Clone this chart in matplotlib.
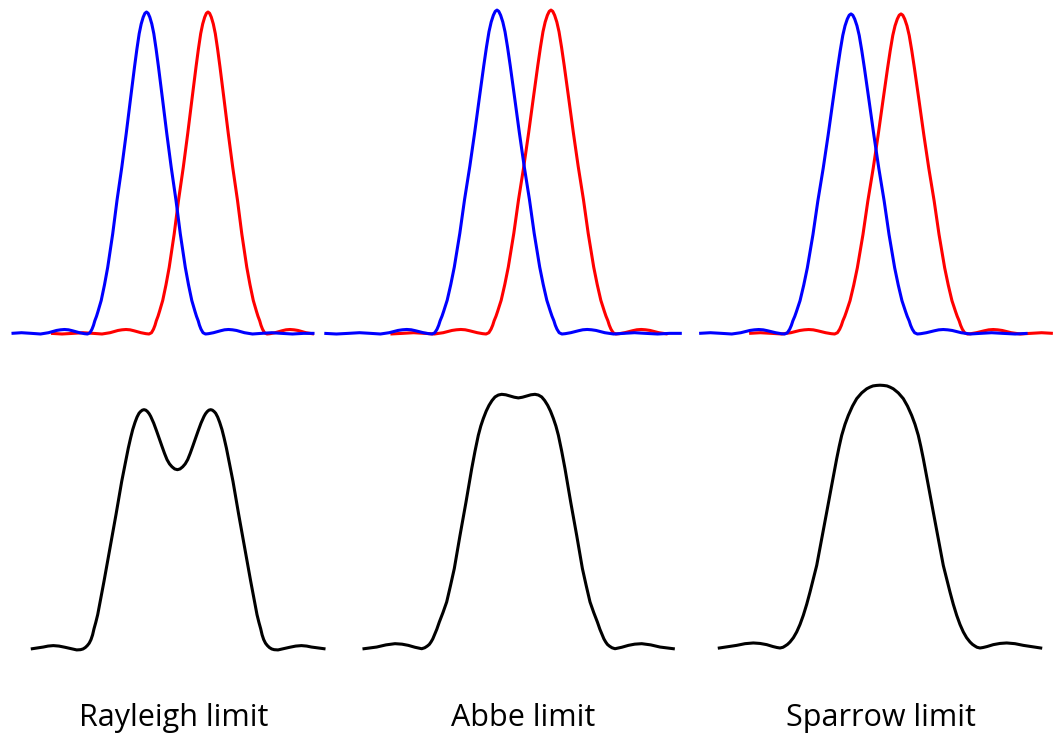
import numpy as np
import matplotlib
matplotlib.use("Agg")
import matplotlib.pyplot as plt

# one spot (Airy-like profile) read off the blue peak of the first panel
# offset from the peak centre, relative intensity
spot_offset = [-180, -168, -157, -146, -135, -125, -115, -106, -98, -90, -86, -82, -78, -74, -67,
               -62, -59, -56.5, -54.5, -53, -51.7, -50, -48.5, -47, -45.3, -42, -38.8, -33.8,
               -29.5, -24.7, -20.3, -16.2, -12, -9.6, -7.3, -5.3, -3.3, -1.6, 0,
               1.6, 3.3, 5.3, 7.3, 9.6, 12, 16.2, 20.3, 24.7, 29.5,
               33.8, 38.8, 42, 45.3, 47, 48.5, 50, 51.7, 53, 54.5, 56.5, 59, 62,
               67, 74, 78, 82, 86, 90, 98, 106, 115, 125, 135, 146, 157, 168, 180]
spot_height = [0.001, 0.002, 0.002, 0.0, 0.002, 0.004, 0.002, 0.0, 0.004, 0.011, 0.013, 0.014, 0.013, 0.010, 0.004,
               0.001, 0.0, 0.004, 0.015, 0.027, 0.041, 0.055, 0.070, 0.086, 0.104, 0.153, 0.207, 0.311,
               0.415, 0.518, 0.622, 0.725, 0.829, 0.885, 0.933, 0.963, 0.984, 0.996, 1.0,
               0.996, 0.984, 0.963, 0.933, 0.885, 0.829, 0.725, 0.622, 0.518, 0.415,
               0.311, 0.207, 0.153, 0.104, 0.086, 0.070, 0.055, 0.041, 0.027, 0.015, 0.004, 0.0, 0.001,
               0.004, 0.010, 0.013, 0.014, 0.013, 0.011, 0.004, 0.0, 0.002, 0.004, 0.002, 0.0, 0.002, 0.002, 0.001]

limit_names = ["Rayleigh limit", "Abbe limit", "Sparrow limit"]

# top row: where the two spots sit in each panel
blue_centre = [146.5, 497, 851]
red_centre = [208, 551, 901]
spot_width = [1.0, 1.1, 1.125]
spot_peak = [1.0, 1.006, 0.994]
blue_range = [(9, 318), (320, 690), (690, 1028)]
red_range = [(47, 317), (380, 673), (738, 1059)]

# bottom row: summed intensity of the two spots
rayleigh_x = [32.3, 43.3, 48, 53.3, 59, 65, 76.7, 80.5, 83, 85.3, 87.3, 89.2, 91, 92.6, 94, 95.8, 97.7,
              104, 110, 116, 121.7, 125.2, 128.3, 130.6, 132.7, 135, 137, 139, 140.5, 142.3, 144,
              145.8, 147.5, 149.2, 150.7, 153.7, 156.7, 159.4, 162, 164.5, 167, 169.5, 172, 174.7, 177.4,
              180, 182.7, 185.2, 187.7, 190.2, 192.7, 195.3, 198, 201, 204, 205.5, 207.2, 208.9, 210.7,
              212.4, 214.2, 215.7, 217.7, 219.7, 222, 224.1, 226.4, 229.5, 233, 238.7, 244.7, 250.7,
              257, 258.9, 260.7, 262.1, 263.7, 265.5, 267.4, 269.4, 271.7, 274.2, 278, 289.7, 295.7,
              301.4, 306.7, 311.4, 324]
rayleigh_y = [-0.003, 0.004, 0.008, 0.010, 0.008, 0.003, -0.008, -0.007, -0.004, 0.002, 0.010, 0.020, 0.035, 0.055, 0.080, 0.107, 0.139,
              0.278, 0.417, 0.556, 0.694, 0.768, 0.833, 0.875, 0.910, 0.940, 0.962, 0.978, 0.985, 0.991, 0.993,
              0.991, 0.985, 0.976, 0.965, 0.937, 0.903, 0.871, 0.840, 0.811, 0.785, 0.767, 0.755, 0.746, 0.743,
              0.746, 0.755, 0.767, 0.785, 0.811, 0.840, 0.871, 0.903, 0.937, 0.965, 0.976, 0.985, 0.991, 0.993,
              0.991, 0.985, 0.978, 0.962, 0.940, 0.910, 0.875, 0.833, 0.768, 0.694, 0.556, 0.417, 0.278,
              0.139, 0.107, 0.080, 0.055, 0.035, 0.020, 0.010, 0.002, -0.004, -0.007, -0.008, 0.003, 0.008,
              0.010, 0.008, 0.004, -0.003]

abbe_x = [364, 376.7, 386, 395, 402, 408.3, 415, 421.7, 424.7, 427.3, 429.3, 431, 432.8, 434.3, 436.8,
          439.3, 443, 446.7, 450.5, 454.3, 460, 466, 471.7, 475, 478.3, 480.8, 483.3, 486.2, 489, 492,
          495, 498.3, 501.7, 505.8, 510, 514.2, 518.35,
          522.5, 526.7, 530.9, 535, 538.4, 541.7, 544.7, 547.7, 550.5, 553.4, 555.9, 558.4, 561.7, 565,
          570.7, 576.7, 582.4, 586.2, 590, 593.7, 597.4, 599.9, 602.4, 603.9, 605.7, 607.4, 609.4, 612,
          615, 621.7, 628.4, 634.7, 641.7, 650.7, 660, 673.3]
abbe_y = [-0.003, 0.004, 0.013, 0.018, 0.016, 0.011, 0.003, -0.003, 0.001, 0.008, 0.015, 0.025, 0.038, 0.053, 0.078,
          0.108, 0.148, 0.192, 0.260, 0.331, 0.469, 0.608, 0.747, 0.820, 0.886, 0.925, 0.956, 0.987, 1.011, 1.031,
          1.046, 1.054, 1.057, 1.055, 1.050, 1.045, 1.042,
          1.045, 1.050, 1.055, 1.057, 1.054, 1.046, 1.031, 1.011, 0.987, 0.956, 0.925, 0.886, 0.820, 0.747,
          0.608, 0.469, 0.331, 0.260, 0.192, 0.148, 0.108, 0.078, 0.053, 0.038, 0.025, 0.015, 0.008, 0.001,
          -0.003, 0.003, 0.011, 0.016, 0.018, 0.013, 0.004, -0.003]

sparrow_x = [719.3, 736.7, 745, 753.3, 760, 766.7, 773, 777, 780, 783, 785, 787.5, 790, 793.4, 796.7,
             800, 803.3, 806.7, 810, 816.7, 821.7, 826.7, 831.7, 836.7, 839.2, 841.7, 845, 848.3, 852.5,
             856.7, 861.7, 866.7, 870, 873, 876.5, 880,
             883.5, 887, 890, 893.3, 898.3, 903.3, 907.5, 911.7, 915, 918.3, 920.8, 923.3, 928.3, 933.3,
             938.3, 943.3, 950, 953.3, 956.7, 960, 963.3, 966.6, 970, 972.5, 975, 977, 980, 983, 987,
             993.3, 1000, 1006.7, 1015, 1023.3, 1040.7]
sparrow_y = [0.0, 0.011, 0.018, 0.021, 0.019, 0.014, 0.006, 0.002, 0.0, 0.003, 0.008, 0.015, 0.025, 0.043, 0.067,
             0.098, 0.136, 0.182, 0.233, 0.344, 0.455, 0.566, 0.678, 0.789, 0.840, 0.886, 0.932, 0.969, 1.008,
             1.039, 1.063, 1.080, 1.087, 1.092, 1.094, 1.095,
             1.094, 1.092, 1.087, 1.080, 1.063, 1.039, 1.008, 0.969, 0.932, 0.886, 0.840, 0.789, 0.678, 0.566,
             0.455, 0.344, 0.233, 0.182, 0.136, 0.098, 0.067, 0.043, 0.025, 0.015, 0.008, 0.003, 0.0, 0.002, 0.006,
             0.014, 0.019, 0.021, 0.018, 0.011, 0.0]

sum_x = [rayleigh_x, abbe_x, sparrow_x]
sum_y = [rayleigh_y, abbe_y, sparrow_y]
label_x = [174, 523, 881]

W, H = 1059, 736
fig = plt.figure(figsize=(W / 100, H / 100), dpi=100)

# top row axes: intensity 0 at pixel row 334, 1 at row 12
top = fig.add_axes([0, 0, 1, 1])
top.set_xlim(0, W)
top.set_ylim((334 - H) / 322, 334 / 322)
top.axis("off")

# bottom row axes: intensity 0 at pixel row 648, 1 at row 408
bot = fig.add_axes([0, 0, 1, 1])
bot.set_xlim(0, W)
bot.set_ylim((648 - H) / 240, 648 / 240)
bot.axis("off")

off = np.array(spot_offset)
hgt = np.array(spot_height)
lw = 2.2

for i in range(3):
    for centre, rng, col in [(red_centre[i], red_range[i], "#ff0000"),
                             (blue_centre[i], blue_range[i], "#0000ff")]:
        xs = centre + off * spot_width[i]
        ys = hgt * spot_peak[i]
        keep = (xs >= rng[0]) & (xs <= rng[1])
        top.plot(xs[keep], ys[keep], color=col, lw=lw, solid_capstyle="butt")

    bot.plot(sum_x[i], sum_y[i], color="black", lw=lw, solid_joinstyle="round")

    fig.text(label_x[i] / W, 1 - 726 / H, limit_names[i], ha="center", va="baseline",
             fontsize=22, family=["Open Sans", "DejaVu Sans"], color="black")

fig.savefig("out.png", dpi=100, facecolor="white")
